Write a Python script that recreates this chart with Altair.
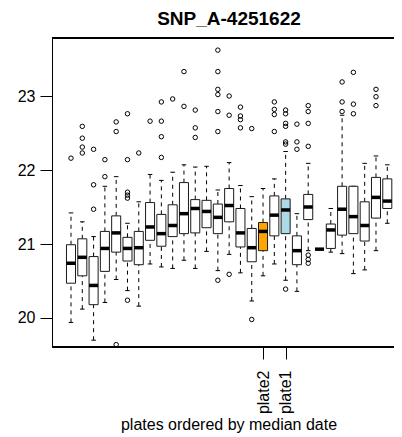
import altair as alt
import pandas as pd

# ---- data -------------------------------------------------------------------
positions = list(range(1, 30))
lower_whisker = [19.94, 20.12, 19.70, 20.21, 20.52, 20.37, 20.16, 20.73, 20.69, 20.67,
                 20.78, 20.67, 20.90, 20.64, 20.86, 20.61, 20.23, 20.57, 20.73, 20.51,
                 20.36, 20.91, 20.93, 20.89, 20.87, 20.60, 20.65, 20.91, 21.28]
q1 = [20.47, 20.57, 20.18, 20.63, 20.89, 20.77, 20.72, 21.05, 20.97, 21.10,
      21.14, 21.15, 21.22, 21.14, 21.30, 20.96, 20.76, 20.91, 21.11, 21.14,
      20.72, 21.33, 20.93, 20.94, 21.12, 21.14, 21.04, 21.35, 21.48]
median = [20.74, 20.82, 20.44, 20.94, 21.15, 20.94, 20.95, 21.23, 21.14, 21.25,
          21.41, 21.48, 21.44, 21.36, 21.52, 21.15, 20.95, 21.17, 21.39, 21.46,
          20.91, 21.50, 20.93, 21.19, 21.47, 21.37, 21.25, 21.63, 21.58]
q3 = [20.99, 21.07, 20.83, 21.17, 21.38, 21.09, 21.17, 21.56, 21.40, 21.53,
      21.83, 21.60, 21.59, 21.54, 21.75, 21.48, 21.21, 21.29, 21.65, 21.61,
      21.11, 21.67, 20.93, 21.27, 21.78, 21.78, 21.57, 21.90, 21.88]
upper_whisker = [21.42, 21.30, 21.10, 21.78, 21.91, 21.28, 21.57, 21.94, 21.86, 21.97,
                 22.07, 22.04, 22.05, 21.73, 22.10, 21.79, 21.64, 21.75, 21.88, 22.25,
                 21.41, 22.09, 20.93, 21.48, 22.74, 21.78, 22.09, 22.19, 22.07]
outliers = [
    [22.16],
    [22.59, 22.43, 22.31, 22.23],
    [22.28, 21.80, 21.47],
    [22.14, 21.91],
    [22.65, 22.52, 19.64],
    [22.76, 22.14, 21.70, 21.66, 21.62, 20.24],
    [22.23],
    [22.66],
    [22.92, 22.66, 22.45, 22.17],
    [22.96],
    [23.33, 22.86],
    [22.81, 22.57, 22.44],
    [],
    [23.62, 23.33, 23.09, 23.02, 22.79, 22.52, 20.51],
    [23.00, 22.74, 20.59],
    [22.85, 22.73, 22.68, 22.57],
    [22.56, 19.98],
    [],
    [22.92, 22.82, 22.75, 22.52],
    [22.81, 22.76, 22.63, 22.59, 22.38, 22.35, 20.39],
    [22.62, 22.38, 22.28],
    [22.87, 22.79, 22.63, 22.32, 20.85, 20.79, 20.74],
    [],
    [],
    [23.19, 22.92, 22.79],
    [23.32, 22.89, 22.76],
    [],
    [23.09, 22.99, 22.87],
    [],
]
highlight_positions = [18, 20]
highlight_colors = ["#FFA500", "#ADD8E6"]
tick_positions = [18, 20]
tick_labels = ["plate2", "plate1"]
y_ticks = [20, 21, 22, 23]
title_text = "SNP_A-4251622"
x_title = "plates ordered by median date"

# ---- tables ------------------------------------------------------------------
half_box = 0.4
half_staple = 0.2
fills = []
for p in positions:
    if p in highlight_positions:
        fills.append(highlight_colors[highlight_positions.index(p)])
    else:
        fills.append("white")

boxes = pd.DataFrame({
    "pos": positions, "lw": lower_whisker, "q1": q1, "med": median,
    "q3": q3, "uw": upper_whisker, "fill": fills,
})
boxes["left"] = boxes["pos"] - half_box
boxes["right"] = boxes["pos"] + half_box
boxes["sl"] = boxes["pos"] - half_staple
boxes["sr"] = boxes["pos"] + half_staple

out_rows = [{"pos": p, "val": v} for p, vals in zip(positions, outliers) for v in vals]
outs = pd.DataFrame(out_rows)

label_expr = " : ".join(
    f"datum.value == {p} ? '{l}'" for p, l in zip(tick_positions, tick_labels)
) + " : ''"

FONT = "Liberation Sans"
W, H = 342, 309
xscale = alt.Scale(domain=[-0.682, 29.594], nice=False, zero=False)
yscale = alt.Scale(domain=[19.608, 23.784], nice=False, zero=False)

xaxis = alt.Axis(values=tick_positions, labelExpr=label_expr, domain=False, grid=False,
                 ticks=True, tickSize=12, tickColor="black", tickWidth=1,
                 labelAngle=270, labelAlign="right", labelBaseline="middle",
                 labelPadding=11, labelFontSize=16, labelFont=FONT, labelColor="black",
                 title=None)
yaxis = alt.Axis(values=y_ticks, domain=True, domainColor="black", domainWidth=1,
                 grid=False, ticks=True, tickSize=12, tickColor="black", tickWidth=1,
                 labelAngle=0, labelPadding=5, labelFontSize=16, labelFont=FONT,
                 labelColor="black", title=None)

base = alt.Chart(boxes)

whisk_hi = base.mark_rule(color="black", strokeWidth=1, strokeDash=[4, 4]).encode(
    x=alt.X("pos:Q", scale=xscale, axis=xaxis),
    y=alt.Y("q3:Q", scale=yscale, axis=yaxis), y2="uw:Q")
whisk_lo = base.mark_rule(color="black", strokeWidth=1, strokeDash=[4, 4]).encode(
    x=alt.X("pos:Q", scale=xscale, axis=xaxis),
    y=alt.Y("lw:Q", scale=yscale, axis=yaxis), y2="q1:Q")
staple_hi = base.mark_rule(color="black", strokeWidth=1).encode(
    x=alt.X("sl:Q", scale=xscale, axis=xaxis), x2="sr:Q",
    y=alt.Y("uw:Q", scale=yscale, axis=yaxis))
staple_lo = base.mark_rule(color="black", strokeWidth=1).encode(
    x=alt.X("sl:Q", scale=xscale, axis=xaxis), x2="sr:Q",
    y=alt.Y("lw:Q", scale=yscale, axis=yaxis))
rects = base.mark_rect(stroke="#1a1a1a", strokeWidth=1).encode(
    x=alt.X("left:Q", scale=xscale, axis=xaxis), x2="right:Q",
    y=alt.Y("q1:Q", scale=yscale, axis=yaxis), y2="q3:Q",
    fill=alt.Fill("fill:N", scale=None))
meds = base.mark_rule(color="black", strokeWidth=3.5, strokeCap="butt").encode(
    x=alt.X("left:Q", scale=xscale, axis=xaxis), x2="right:Q",
    y=alt.Y("med:Q", scale=yscale, axis=yaxis))
pts = alt.Chart(outs).mark_point(shape="circle", filled=False, color="black",
                                 size=20, strokeWidth=1, opacity=1).encode(
    x=alt.X("pos:Q", scale=xscale, axis=xaxis),
    y=alt.Y("val:Q", scale=yscale, axis=yaxis))

frame_top = base.mark_rule(color="black", strokeWidth=1).encode(
    x=alt.value(0), x2=alt.value(W), y=alt.value(0))
frame_bot = base.mark_rule(color="black", strokeWidth=1).encode(
    x=alt.value(0), x2=alt.value(W), y=alt.value(H))
axis_seg = base.mark_rule(color="black", strokeWidth=1.5).encode(
    x=alt.datum(tick_positions[0], scale=xscale),
    x2=alt.datum(tick_positions[-1]), y=alt.value(H))

title_df = pd.DataFrame({"t": [title_text]})
xt_df = pd.DataFrame({"t": [x_title]})
title = alt.Chart(title_df).mark_text(font=FONT, fontSize=19, fontWeight="bold",
                                      align="center", baseline="middle",
                                      color="black").encode(
    text="t:N", x=alt.value(177), y=alt.value(-19.5))
xtitle = alt.Chart(xt_df).mark_text(font=FONT, fontSize=16, align="center",
                                    baseline="middle", color="black").encode(
    text="t:N", x=alt.value(177), y=alt.value(387))

chart = alt.layer(
    whisk_hi, whisk_lo, staple_hi, staple_lo, rects, meds, pts,
    frame_top, frame_bot, axis_seg, title, xtitle
).properties(
    width=W, height=H,
    padding={"left": 44, "top": 30, "right": 0, "bottom": 86},
    autosize=alt.AutoSizeParams(type="none"),
).configure_view(stroke=None).configure(background="white")

chart.save("out.html", embed_options={"renderer": "svg", "actions": False})
